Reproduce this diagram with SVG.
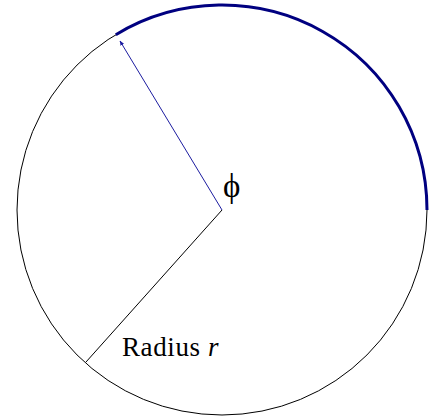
<svg xmlns="http://www.w3.org/2000/svg" width="438" height="417" viewBox="0 0 438 417">
  <style>
    .circle { fill: none; stroke: #000; stroke-width: 1; }
    .arc { fill: none; stroke: #000080; stroke-width: 3; }
    .blue { stroke: #1c1ca0; stroke-width: 1; fill: none; }
    .black { stroke: #000; stroke-width: 1; fill: none; }
    .lbl { font-family: "Liberation Serif", "Times New Roman", serif; fill: #000; }
  </style>
  <defs>
    <marker id="ah" viewBox="0 0 10 10" refX="9" refY="5" markerWidth="5" markerHeight="5" orient="auto" markerUnits="userSpaceOnUse">
      <path d="M0,1 L10,5 L0,9 z" fill="#1c1ca0"/>
    </marker>
  </defs>
  <rect width="438" height="417" fill="#fff"/>
  <g id="circle">
    <circle class="circle" cx="222" cy="210" r="205"/>
    <path class="arc" d="M115.8,34.7 A205,205 0 0 1 427,210"/>
  </g>
  <g id="connectors">
    <line class="blue" x1="222" y1="210" x2="120" y2="41" marker-end="url(#ah)"/>
    <line class="black" x1="222" y1="210" x2="86" y2="362"/>
  </g>
  <g id="labels">
    <text class="lbl" x="223" y="197" font-size="33">ϕ</text>
    <text class="lbl" x="122" y="356" font-size="27" letter-spacing="0.6">Radius <tspan font-style="italic">r</tspan></text>
  </g>
</svg>
